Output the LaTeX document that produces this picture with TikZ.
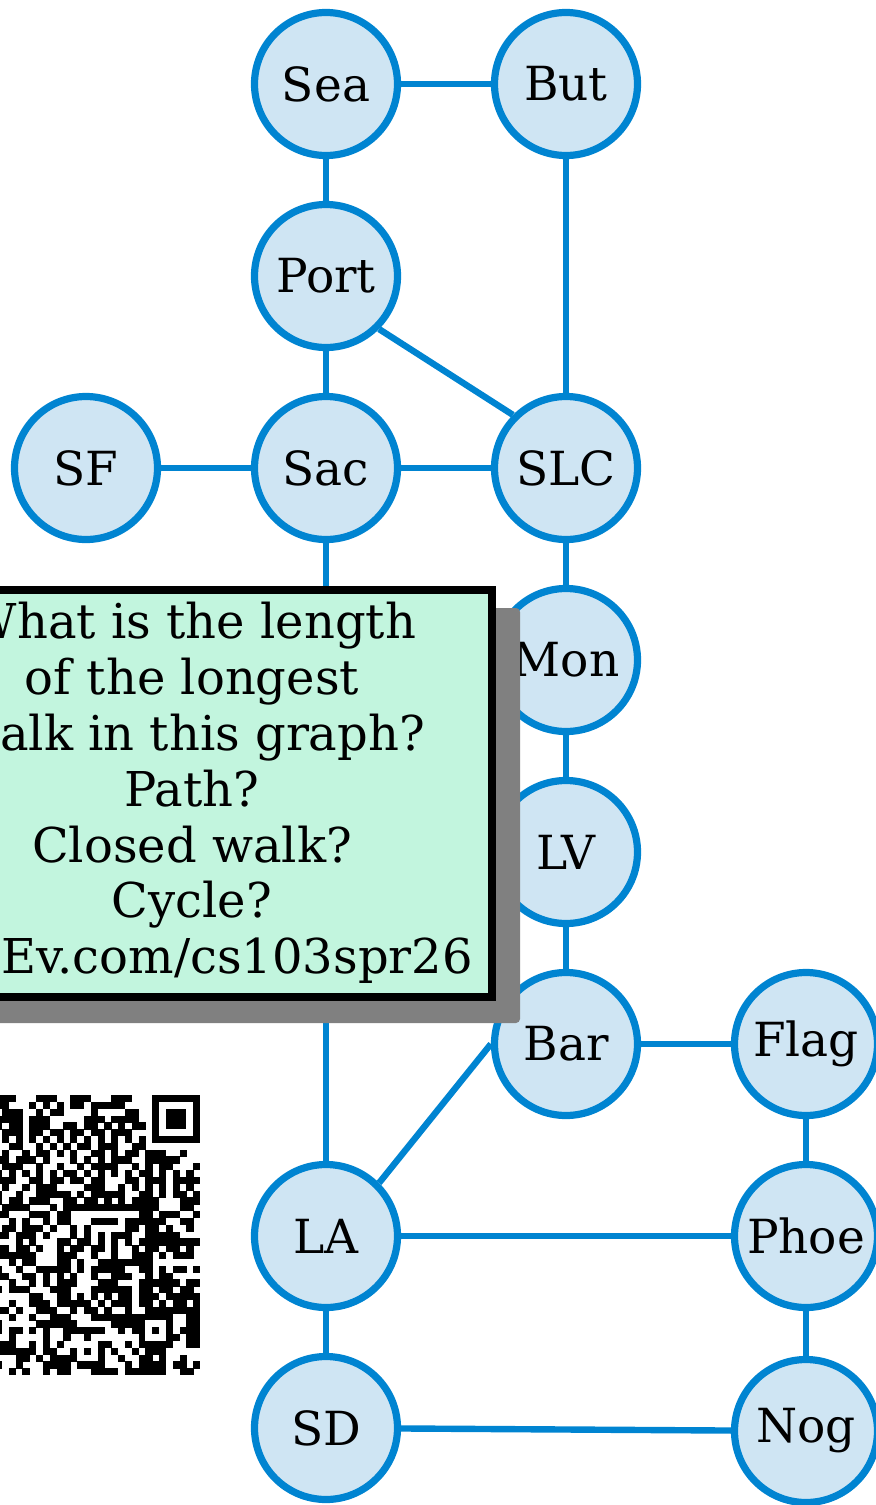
\documentclass[tikz,border=0pt]{standalone}
\usepackage{fontspec}
\setmainfont{DejaVu Serif}
\usepackage{xcolor}
\usepackage{tikz}
\usetikzlibrary{positioning}
\definecolor{cityline}{RGB}{0,132,209}
\definecolor{cityfill}{RGB}{207,229,243}
\definecolor{quizfill}{RGB}{194,245,222}
\definecolor{quizshade}{RGB}{128,128,128}
\tikzset{
  citynode/.style={circle, draw=cityline, fill=cityfill, line width=3.6pt,
    minimum size=71.5pt, inner sep=0pt, font=\fontsize{23.5}{28}\selectfont},
  cityroad/.style={draw=cityline, line width=3.2pt},
  quizbox/.style={draw=black, fill=quizfill, line width=4pt, align=center,
    minimum width=300pt, minimum height=203.5pt, inner sep=0pt,
    font=\fontsize{24}{27.9}\selectfont},
  quizshadow/.style={fill=quizshade, rounded corners=2pt},
  qrcell/.style={fill=black}
}

\begin{document}
\begin{tikzpicture}[x=0.5pt, y=-0.5pt, node distance=96pt and 120pt, on grid]
  \useasboundingbox (0,0) rectangle (876,1505);
  \clip (0,0) rectangle (876,1505);

  % cities
  \node[citynode] (sea) at (326,84) {Sea};
  \node[citynode, right=of sea] (but) {But};
  \node[citynode, below=of sea] (port) {Port};
  \node[citynode, below=of port] (sac) {Sac};
  \node[citynode, left=of sac] (sf) {SF};
  \node[citynode, right=of sac] (slc) {SLC};
  \node[citynode, below=of slc] (mon) {Mon};
  \node[citynode, below=of mon] (lv) {LV};
  \node[citynode, below=of lv] (bar) {Bar};
  \node[citynode, right=of bar] (flag) {Flag};
  \node[citynode, below left=of bar] (la) {LA};
  \node[citynode, below=of flag] (phoe) {Phoe};
  \node[citynode, below=of la] (sd) {SD};
  \node[citynode, below=of phoe, yshift=-1.5pt] (nog) {Nog};

  % roads
  \draw[cityroad] (sea) -- (but);
  \draw[cityroad] (sea) -- (port);
  \draw[cityroad] (but) -- (slc);
  \draw[cityroad] (port) -- (sac);
  \draw[cityroad] (port.south east) -- (slc.north west);
  \draw[cityroad] (sf) -- (sac);
  \draw[cityroad] (sac) -- (slc);
  \draw[cityroad] (sac) -- (la);
  \draw[cityroad] (slc) -- (mon);
  \draw[cityroad] (mon) -- (lv);
  \draw[cityroad] (lv) -- (bar);
  \draw[cityroad] (bar) -- (flag);
  \draw[cityroad] (bar.west) -- (la.north east);
  \draw[cityroad] (flag) -- (phoe);
  \draw[cityroad] (la) -- (phoe);
  \draw[cityroad] (la) -- (sd);
  \draw[cityroad] (phoe) -- (nog);
  \draw[cityroad] (sd) -- (nog);

  % question box
  \fill[quizshadow] (-90,608) rectangle (520,1023);
  \node[quizbox] (quiz) at (192,793)
    {What is the length\\of the longest\\walk in this graph?\\Path?\\Closed walk?\\Cycle?\\PollEv.com/cs103spr26};

  % qr code
  \begin{scope}[shift={(-80,1095)}, x=3.4145pt, y=-3.4145pt]
    \foreach \i in {11,...,40}{
      \foreach \j in {0,...,40}{
        \pgfmathtruncatemacro\qrskip{(\i>32 && \j<8) || \j==6 || (\i>31 && \i<37 && \j>31 && \j<37)}
        \ifnum\qrskip=0
          \pgfmathtruncatemacro\qrbit{mod(mod(\i*\i*7,31)*\j+mod(\j*\j*3,29)*\i+\i*13+\j*5,11)<6}
          \ifnum\qrbit=1
            \fill[qrcell] (\i,\j) rectangle ++(1.05,1.05);
          \fi
        \fi
      }
    }
    \foreach \i in {12,14,...,32}
      \fill[qrcell] (\i,6) rectangle ++(1.05,1);
    \fill[qrcell] (34,0) rectangle (41,7);
    \fill[white] (35,1) rectangle (40,6);
    \fill[qrcell] (36,2) rectangle (39,5);
    \fill[qrcell] (32,32) rectangle (37,37);
    \fill[white] (33,33) rectangle (36,36);
    \fill[qrcell] (34,34) rectangle (35,35);
  \end{scope}
\end{tikzpicture}
\end{document}
